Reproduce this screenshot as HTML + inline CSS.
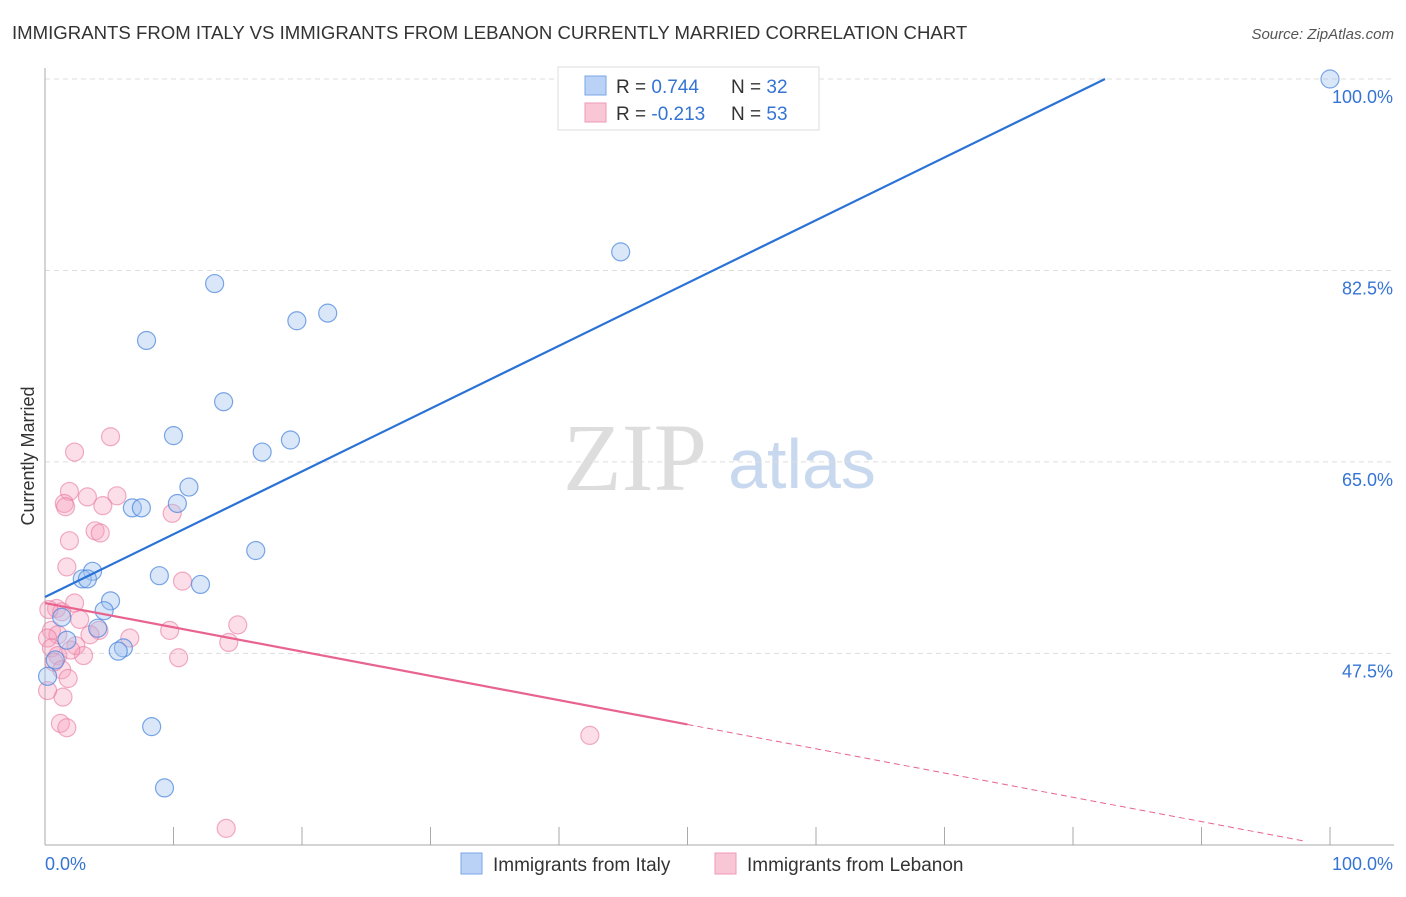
<!DOCTYPE html>
<html><head><meta charset="utf-8"><style>
body{margin:0;background:#fff;font-family:"Liberation Sans",sans-serif;}
</style></head><body>
<svg id="chart" width="1406" height="892" viewBox="0 0 1406 892" xmlns="http://www.w3.org/2000/svg">
<text x="12" y="39" font-size="18.6" fill="#333">IMMIGRANTS FROM ITALY VS IMMIGRANTS FROM LEBANON CURRENTLY MARRIED CORRELATION CHART</text>
<text x="1394" y="39" font-size="15" fill="#555" text-anchor="end" font-style="italic">Source: ZipAtlas.com</text>
<text x="34" y="456" font-size="18" fill="#333" text-anchor="middle" transform="rotate(-90 34 456)">Currently Married</text>
<g>
<text x="635" y="490" font-size="96" fill="#ddd" font-family="Liberation Serif,serif" text-anchor="middle">ZIP</text>
<text x="802" y="488" font-size="70" fill="#c8d8ee" text-anchor="middle">atlas</text>
</g>
<g id="grid"></g><g id="axes"></g><g id="pts"></g><g id="lines"></g>
<g>
<rect x="558" y="67" width="261" height="63" fill="#fff" stroke="#ddd"/>
<rect x="585" y="76" width="21" height="19" fill="#b9d2f5" stroke="#7aa6e6"/>
<rect x="585" y="103" width="21" height="19" fill="#f9c6d6" stroke="#ee9ab5"/>
<text x="616" y="93" font-size="19" fill="#333">R = <tspan fill="#3574d4">0.744</tspan></text>
<text x="731" y="93" font-size="19" fill="#333">N = <tspan fill="#3574d4">32</tspan></text>
<text x="616" y="120" font-size="19" fill="#333">R = <tspan fill="#3574d4">-0.213</tspan></text>
<text x="731" y="120" font-size="19" fill="#333">N = <tspan fill="#3574d4">53</tspan></text>
</g>
<g>
<rect x="461" y="853" width="21" height="21" fill="#b9d2f5" stroke="#7aa6e6"/>
<text x="493" y="871" font-size="19" fill="#333">Immigrants from Italy</text></g>
<g>
<rect x="715" y="853" width="21" height="21" fill="#f9c6d6" stroke="#ee9ab5"/>
<text x="747" y="871" font-size="19" fill="#333">Immigrants from Lebanon</text></g>
</svg>
<script>
const italyX=[100,44.8,13.2,19.6,22.0,7.9,13.9,10.0,19.1,16.9,11.2,10.3,6.8,7.5,16.4,8.9,12.1,3.7,2.9,3.3,5.1,4.6,1.3,4.1,1.7,6.1,5.7,0.8,0.2,8.3,9.3];
const italyY=[100,84.2,81.3,77.9,78.6,76.1,70.5,67.4,67.0,65.9,62.7,61.2,60.8,60.8,56.9,54.6,53.8,55.0,54.3,54.3,52.3,51.4,50.8,49.8,48.7,48.0,47.7,46.9,45.4,40.8,35.2];
const lebX=[5.1,2.3,1.9,3.3,5.6,1.5,1.6,4.5,9.9,3.9,4.3,1.9,1.7,10.7,2.3,0.9,1.3,0.3,2.7,15.0,9.7,4.2,3.5,0.5,1.0,0.2,6.6,14.3,2.4,0.5,3.0,10.4,1.0,0.7,1.3,1.8,1.4,0.2,1.2,1.7,42.4,14.1,2.0];
const lebY=[67.3,65.9,62.3,61.8,61.9,61.2,60.9,61.0,60.3,58.7,58.5,57.8,55.4,54.1,52.1,51.6,51.3,51.5,50.6,50.1,49.6,49.6,49.2,49.6,49.2,48.9,48.9,48.5,48.2,48.0,47.3,47.1,47.3,46.7,46.0,45.2,43.5,44.1,41.1,40.7,40.0,31.5,47.8];
const yTicks=[47.5,65.0,82.5,100.0];
const italyLine=[52.65,0.574];
const lebLine=[52.1,-0.222];
const NS="http://www.w3.org/2000/svg";
const sx=v=>45+v*12.85, sy=v=>79+(100-v)*10.94;
function mk(t,a,p){const e=document.createElementNS(NS,t);for(const k in a)e.setAttribute(k,a[k]);document.getElementById(p).appendChild(e);return e;}
yTicks.forEach(t=>{
 const l=mk('line',{x1:45,x2:1394,y1:sy(t),y2:sy(t),stroke:'#ddd','stroke-dasharray':'5,4'},'grid');
 
 
 const tx=mk('text',{x:1393,y:sy(t)+24,'font-size':18,fill:'#3574d4','text-anchor':'end'},'grid');tx.textContent=t.toFixed(1)+'%';
 
 
});
mk('line',{x1:45,x2:45,y1:68,y2:845,stroke:'#aaa'},'axes');
mk('line',{x1:45,x2:1394,y1:845,y2:845,stroke:'#aaa'},'axes');
for(let i=0;i<=10;i++)mk('line',{x1:sx(i*10),x2:sx(i*10),y1:827,y2:845,stroke:'#aaa'},'axes');
let a=mk('text',{x:45,y:870,'font-size':18,fill:'#3574d4'},'axes');a.textContent='0.0%';


a=mk('text',{x:1393,y:870,'font-size':18,fill:'#3574d4','text-anchor':'end'},'axes');a.textContent='100.0%';


lebX.forEach((x,i)=>{const c=mk('circle',{cx:sx(x),cy:sy(lebY[i]),r:9,fill:'rgba(246,160,188,0.35)',stroke:'rgba(232,120,160,0.6)','stroke-width':1.2},'pts');
 
 });
italyX.forEach((x,i)=>{const c=mk('circle',{cx:sx(x),cy:sy(italyY[i]),r:9,fill:'rgba(160,195,240,0.4)',stroke:'rgba(70,130,220,0.7)','stroke-width':1.2},'pts');
 
 });
const xEnd=(100-italyLine[0])/italyLine[1];
let l=mk('line',{x1:sx(0),y1:sy(italyLine[0]),x2:sx(xEnd),y2:sy(100),stroke:'#2a72d6','stroke-width':2.2},'lines');


l=mk('line',{x1:sx(0),y1:sy(lebLine[0]),x2:sx(50),y2:sy(lebLine[0]+lebLine[1]*50),stroke:'#e8648f','stroke-width':2.2},'lines');


l=mk('line',{x1:sx(50),y1:sy(lebLine[0]+lebLine[1]*50),x2:sx(98),y2:sy(lebLine[0]+lebLine[1]*98),stroke:'#e8648f','stroke-width':1,'stroke-dasharray':'6,4'},'lines');


</script>
</body></html>
